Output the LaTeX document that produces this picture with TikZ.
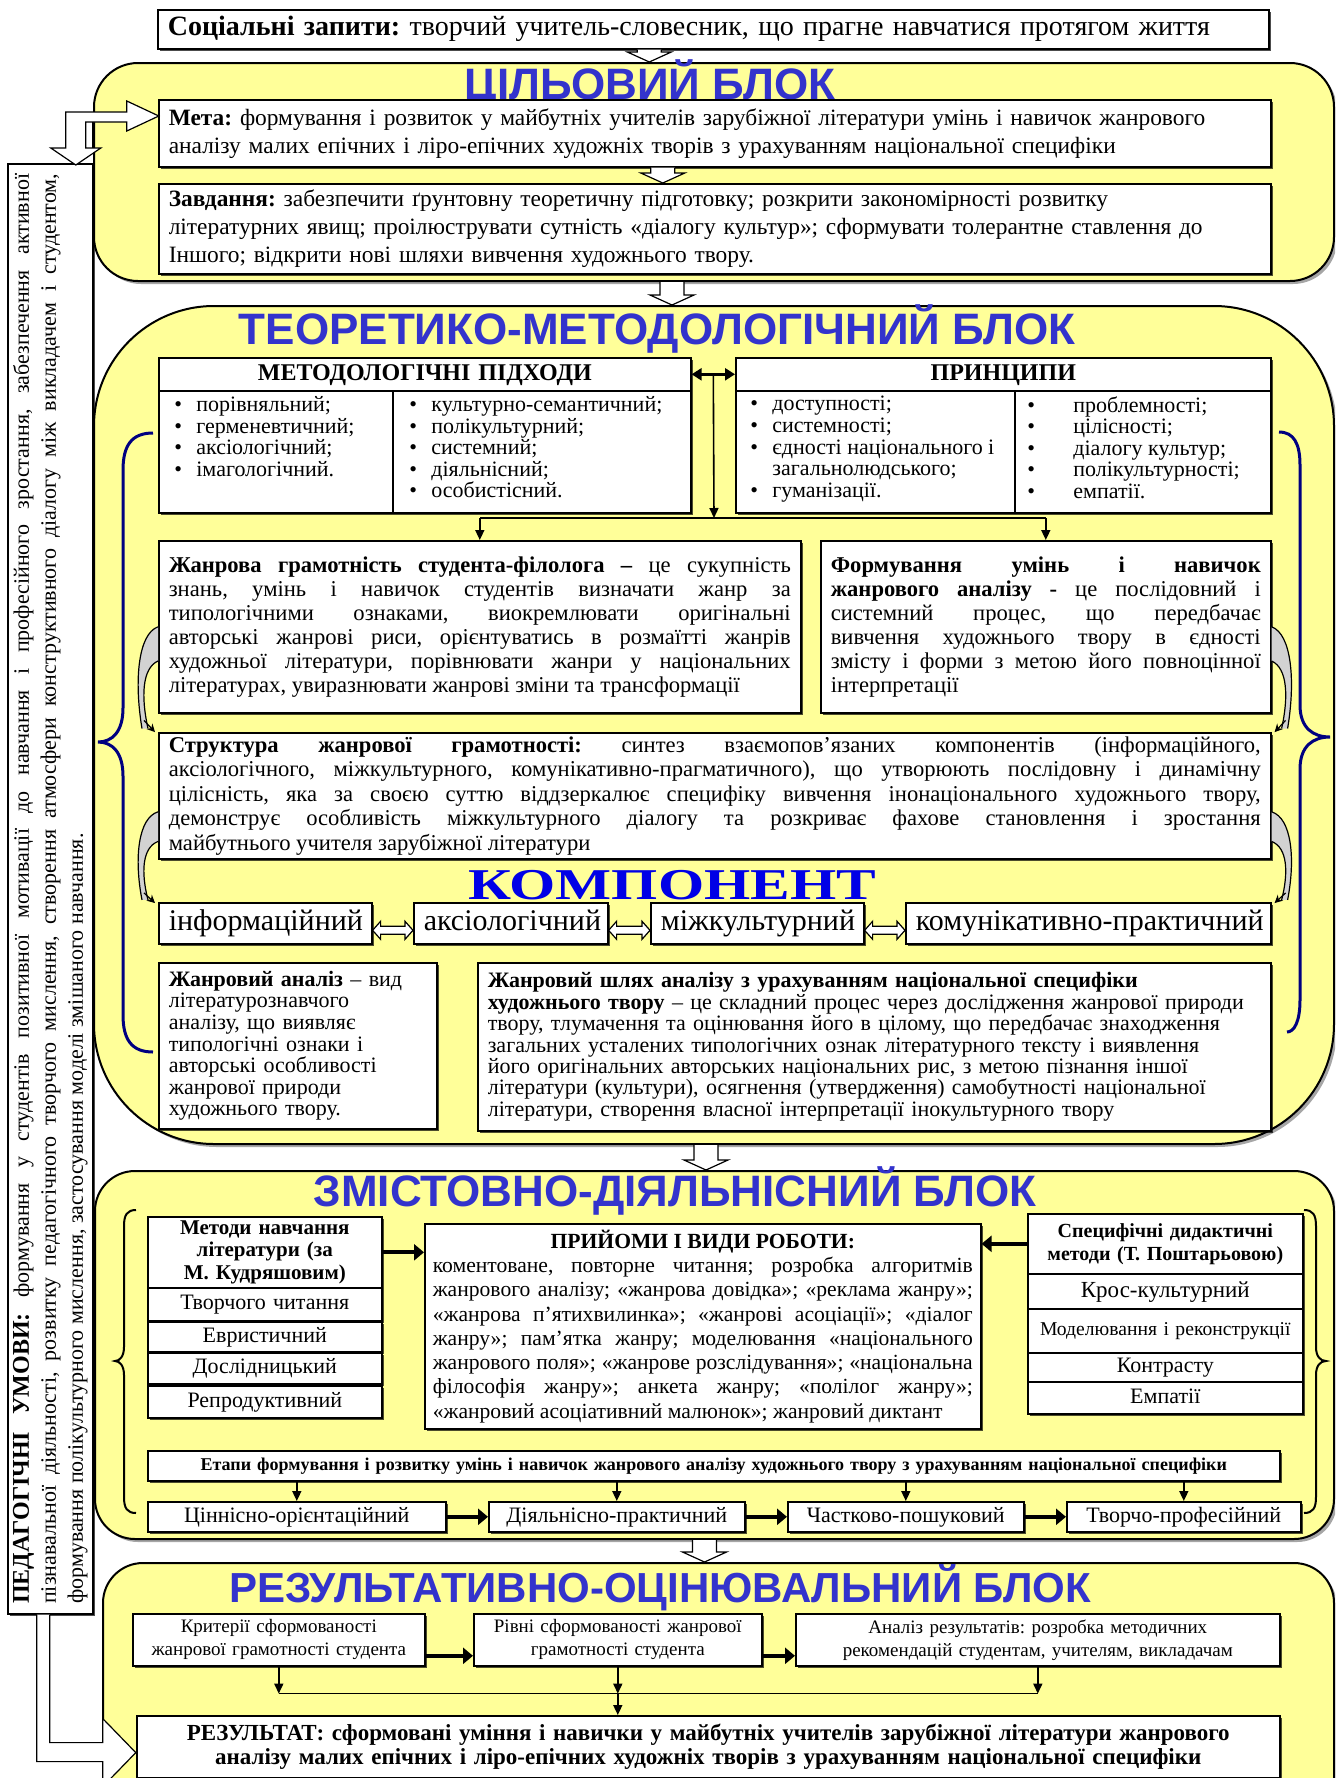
\documentclass[tikz,border=0pt]{standalone}
\usepackage{fontspec}
\setmainfont{Liberation Serif}
\newfontfamily\blkfont{Liberation Sans}
\usetikzlibrary{arrows.meta,calc,shadows}

\definecolor{blkyellow}{RGB}{255,255,153}
\definecolor{wordblue}{RGB}{51,51,204}
\definecolor{compblue}{RGB}{0,0,230}
\definecolor{bracenavy}{RGB}{0,0,128}

\newcommand{\fsz}[2]{\fontsize{#1}{#2}\selectfont}
\newcommand{\blt}{\makebox[11pt][l]{•}}
\newcommand{\bltw}{\makebox[23pt][l]{•}}

% hollow arrow down
\newcommand{\hdown}[2]{%
  \draw[harrow] let \p1=(#1), \p2=(#2) in
    (\x1-6pt,\y1) -- (\x1-6pt,\y2+5pt) -- (\x1-11pt,\y2+5pt) -- (\x1,\y2)
    -- (\x1+11pt,\y2+5pt) -- (\x1+6pt,\y2+5pt) -- (\x1+6pt,\y1);}

% hollow double arrow
\newcommand{\hboth}[2]{%
  \draw[harrow] let \p1=(#1), \p2=(#2) in
    (\x1,\y1) -- (\x1+4pt,\y1+4.5pt) -- (\x1+4pt,\y1+2pt) -- (\x2-4pt,\y1+2pt)
    -- (\x2-4pt,\y1+4.5pt) -- (\x2,\y1) -- (\x2-4pt,\y1-4.5pt) -- (\x2-4pt,\y1-2pt)
    -- (\x1+4pt,\y1-2pt) -- (\x1+4pt,\y1-4.5pt) -- cycle;}

\hyphenpenalty=10000
\exhyphenpenalty=10000
\tolerance=9999
\frenchspacing

\begin{document}
\begin{tikzpicture}[x=0.5pt, y=-0.5pt,
  sz/.style 2 args={minimum width=#1*0.5pt, minimum height=#2*0.5pt},
  wh/.style 2 args={sz={#1}{#2}, text width=#1*0.5pt-10pt},
  blk/.style={draw, line width=1pt, fill=blkyellow, rounded corners=#1, anchor=north west,
    drop shadow={shadow xshift=1.5pt, shadow yshift=-1.5pt, opacity=0.35, fill=black}},
  box/.style={draw, line width=0.8pt, fill=white, anchor=north west,
    inner xsep=5pt, inner ysep=1pt,
    drop shadow={shadow xshift=1pt, shadow yshift=-1pt, opacity=0.7, fill=black}},
  oneline/.style={align=center, text height=0.72*#1, text depth=0.22*#1, font=\fsz{#1}{#1}},
  lst/.style={anchor=north west, inner sep=0pt, align=left, font=\fsz{11}{10.8}},
  blktitle/.style={font=\blkfont\bfseries\fsz{22}{24}, text=wordblue},
  harrow/.style={fill=white, line width=0.6pt},
  arr/.style={line width=0.8pt, -{Triangle[length=5pt,width=4.5pt]}},
  tarr/.style={line width=2pt, -{Triangle[length=5pt,width=8pt]}},
  curlbr/.style={line width=1pt},
  bluebr/.style={line width=1.5pt, draw=bracenavy},
  bendarr/.pic={
    \fill[gray!35] (0,0) .. controls (-20,8) and (-24,60) .. (-16,113)
      -- (-10,113) .. controls (-17,78) and (-16,46) .. (0,38) -- cycle;
    \draw[line width=0.6pt] (0,0) .. controls (-20,8) and (-24,60) .. (-16,113);
    \draw[line width=0.6pt] (0,38) .. controls (-16,46) and (-17,78) .. (-10,113);
    \draw[line width=0.6pt, -{Stealth[length=4pt,width=4pt]}] (-14,104) -- (-3,117);
  }
]
\useasboundingbox (0,0) rectangle (1335,1778);
\clip (0,0) rectangle (1335,1778);

% Social requests
\node[box, wh={1111}{39}, align=left, font=\fsz{14}{16}] (soc) at (157,9)
{\textbf{Соціальні запити:} творчий учитель-словесник, що прагне навчатися протягом життя};

% Goal block
\node[blk=22pt, sz={1240}{218}] (goalblk) at (93,62) {};
\hdown{$(soc.south)+(-64,0)$}{goalblk.north};
\node[blktitle] (goaltitle) at (650,84) {ЦІЛЬОВИЙ БЛОК};

\node[box, wh={1112}{67}, align=left, font=\fsz{11.7}{14}] (meta) at (158,99)
{\textbf{Мета:} формування і розвиток у майбутніх учителів зарубіжної літератури умінь і навичок жанрового\\
аналізу малих епічних і ліро-епічних художніх творів з урахуванням національної специфіки};

\node[box, wh={1112}{90}, align=left, font=\fsz{11.7}{14}] (zavd) at (158,183)
{\textbf{Завдання:} забезпечити ґрунтовну теоретичну підготовку; розкрити закономірності розвитку\\
літературних явищ; проілюструвати сутність «діалогу культур»; сформувати толерантне ставлення до\\
Іншого; відкрити нові шляхи вивчення художнього твору.};
\hdown{$(meta.south)+(-52,0)$}{zavd.north};

% Theoretical and methodological block
\node[blk=60pt, sz={1240}{838}] (theoblk) at (93,305) {};
\hdown{$(goalblk.south)+(-42,0)$}{theoblk.north};
\node[blktitle] (theotitle) at (657,329) {ТЕОРЕТИКО-МЕТОДОЛОГІЧНИЙ БЛОК};

\draw[bluebr] (153,433) .. controls (132,433) and (123,445) .. (123,470) -- (123,708)
  .. controls (123,732) and (112,742) .. (98,742) .. controls (112,742) and (123,752) .. (123,776)
  -- (123,1015) .. controls (123,1040) and (132,1052) .. (153,1052);
\draw[bluebr] (1279,432) .. controls (1294,432) and (1300,444) .. (1300,465) -- (1300,705)
  .. controls (1300,728) and (1313,737) .. (1330,737) .. controls (1313,737) and (1300,746) .. (1300,769)
  -- (1300,1000) .. controls (1300,1022) and (1294,1032) .. (1287,1032);

\node[box, wh={532}{33}, oneline=12, font=\bfseries\fsz{12}{12}] (apphead) at (158,357) {МЕТОДОЛОГІЧНІ ПІДХОДИ};
\node[box, wh={535}{33}, oneline=12, font=\bfseries\fsz{12}{12}] (prinhead) at (735,357) {ПРИНЦИПИ};
\node[box, sz={234}{122}] (appA) at (158,390) {};
\node[box, sz={298}{122}] (appB) at (392,390) {};
\node[box, sz={279}{122}] (prinA) at (735,390) {};
\node[box, sz={256}{122}] (prinB) at (1014,390) {};

\node[lst] (appAtxt) at ([xshift=8pt,yshift=-3pt]appA.north west)
{\blt порівняльний;\\ \blt герменевтичний;\\ \blt аксіологічний;\\ \blt імагологічний.};
\node[lst] (appBtxt) at ([xshift=8.5pt,yshift=-3pt]appB.north west)
{\blt культурно-семантичний;\\ \blt полікультурний;\\ \blt системний;\\ \blt діяльнісний;\\ \blt особистісний.};
\node[lst] (prinAtxt) at ([xshift=7.5pt,yshift=-3pt]prinA.north west)
{\blt доступності;\\ \blt системності;\\ \blt єдності національного і\\ \hspace*{11pt}загальнолюдського;\\ \blt гуманізації.};
\node[lst] (prinBtxt) at ([xshift=6.5pt,yshift=-3pt]prinB.north west)
{\bltw проблемності;\\ \bltw цілісності;\\ \bltw діалогу культур;\\ \bltw полікультурності;\\ \bltw емпатії.};

\coordinate (hub) at ($(apphead.east)!0.5!(prinhead.west)$);
\coordinate (bar) at (714,518);
\draw[line width=1.2pt, {Triangle[length=5pt,width=6pt]}-{Triangle[length=5pt,width=6pt]}]
  (apphead.east) -- (prinhead.west);

\node[box, wh={642}{172}, align=justify, font=\fsz{11.3}{12}] (zhgram) at (158,540)
{\textbf{Жанрова грамотність студента-філолога –} це сукупність\linebreak
знань, умінь і навичок студентів визначати жанр за\linebreak
типологічними ознаками, виокремлювати оригінальні\linebreak
авторські жанрові риси, орієнтуватись в розмаїтті жанрів\linebreak
художньої літератури, порівнювати жанри у національних\linebreak
літературах, увиразнювати жанрові зміни та трансформації};

\node[box, wh={450}{172}, align=justify, font=\fsz{11.3}{12}] (formuv) at (820,540)
{\textbf{Формування умінь і навичок}\linebreak
\textbf{жанрового аналізу -} це послідовний і\linebreak
системний процес, що передбачає\linebreak
вивчення художнього твору в єдності\linebreak
змісту і форми з метою його повноцінної\linebreak
інтерпретації};

\draw[arr] (hub) -- (bar);
\draw[line width=0.8pt] (zhgram.north |- bar) -- (formuv.north |- bar);
\draw[arr] (zhgram.north |- bar) -- (zhgram.north);
\draw[arr] (formuv.north |- bar) -- (formuv.north);

\node[box, wh={1112}{126}, align=justify, font=\fsz{11.3}{12.2}] (struct) at (158,732)
{\textbf{Структура жанрової грамотності:} синтез взаємопов’язаних компонентів (інформаційного,\linebreak
аксіологічного, міжкультурного, комунікативно-прагматичного), що утворюють послідовну і динамічну\linebreak
цілісність, яка за своєю суттю віддзеркалює специфіку вивчення інонаціонального художнього твору,\linebreak
демонструє особливість міжкультурного діалогу та розкриває фахове становлення і зростання\linebreak
майбутнього учителя зарубіжної літератури};

\pic[yscale=0.9] at (zhgram.west) {bendarr};
\pic[xscale=-1, yscale=0.9] at (formuv.east) {bendarr};
\pic[yscale=0.78] at ([yshift=-8pt]struct.west) {bendarr};
\pic[xscale=-1, yscale=0.78] at ([yshift=-8pt]struct.east) {bendarr};

% Components
\node[font=\bfseries\fsz{22}{24}, text=compblue] (comptitle) at (672,885) {\scalebox{1.35}[1]{КОМПОНЕНТ}};
\node[box, wh={213}{41}, oneline=15] (comp1) at (158,902) {інформаційний};
\node[box, wh={194}{41}, oneline=15] (comp2) at (413,902) {аксіологічний};
\node[box, wh={213}{41}, oneline=15] (comp3) at (650,902) {міжкультурний};
\node[box, wh={365}{41}, oneline=15] (comp4) at (905,902) {комунікативно-практичний};
\hboth{[yshift=-3.5pt]comp1.east}{[yshift=-3.5pt]comp2.west};
\hboth{[yshift=-3.5pt]comp2.east}{[yshift=-3.5pt]comp3.west};
\hboth{[yshift=-3.5pt]comp3.east}{[yshift=-3.5pt]comp4.west};

\node[box, wh={278}{166}, align=left, font=\fsz{11}{10.8}] (zhanal) at (158,962)
{\textbf{Жанровий аналіз} – вид\\ літературознавчого\\ аналізу, що виявляє\\ типологічні ознаки і\\
авторські особливості\\ жанрової природи\\ художнього твору.};

\node[box, wh={793}{168}, align=left, font=\fsz{11}{10.7}] (zhshlyakh) at (477,962)
{\textbf{Жанровий шлях аналізу з урахуванням національної специфіки}\\
\textbf{художнього твору} – це складний процес через дослідження жанрової природи\\
твору, тлумачення та оцінювання його в цілому, що передбачає знаходження\\
загальних усталених типологічних ознак літературного тексту і виявлення\\
його оригінальних авторських національних рис, з метою пізнання іншої\\
літератури (культури), осягнення (утвердження) самобутності національної\\
літератури, створення власної інтерпретації інокультурного твору};

% Content and activity block
\node[blk=20pt, sz={1239}{368}] (contblk) at (94,1170) {};
\hdown{$(theoblk.south)+(-8,0)$}{contblk.north};
\node[blktitle] (conttitle) at (675,1191) {ЗМІСТОВНО-ДІЯЛЬНІСНИЙ БЛОК};

\draw[curlbr] (136,1210) .. controls (127,1210) and (124,1215) .. (124,1226) -- (124,1347)
  .. controls (124,1356) and (120,1361) .. (115,1361) .. controls (120,1361) and (124,1366) .. (124,1375)
  -- (124,1497) .. controls (124,1508) and (127,1513) .. (136,1513);
\draw[curlbr] (1304,1210) .. controls (1313,1210) and (1316,1215) .. (1316,1226) -- (1316,1347)
  .. controls (1316,1356) and (1320,1361) .. (1326,1361) .. controls (1320,1361) and (1316,1366) .. (1316,1375)
  -- (1316,1497) .. controls (1316,1508) and (1313,1513) .. (1304,1513);

\node[box, wh={234}{71}, align=center, font=\bfseries\fsz{10.5}{11.2}] (methhead) at (147,1216)
{Методи навчання\\ літератури (за\\ М.~Кудряшовим)};
\node[box, wh={234}{33}, oneline=11] (meth1) at (147,1287) {Творчого читання};
\node[box, wh={234}{30}, oneline=11] (meth2) at (147,1321) {Евристичний};
\node[box, wh={234}{31}, oneline=11] (meth3) at (147,1352) {Дослідницький};
\node[box, wh={234}{32}, oneline=11] (meth4) at (147,1385) {Репродуктивний};

\node[box, wh={556}{205}, inner xsep=4pt, text width=270pt, align=justify, font=\fsz{10.8}{12.15}] (pryiomy) at (424,1223)
{{\centering\textbf{ПРИЙОМИ І ВИДИ РОБОТИ:}\par}
коментоване, повторне читання; розробка алгоритмів\linebreak
жанрового аналізу; «жанрова довідка»; «реклама жанру»;\linebreak
«жанрова п’ятихвилинка»; «жанрові асоціації»; «діалог\linebreak
жанру»; пам’ятка жанру; моделювання «національного\linebreak
жанрового поля»; «жанрове розслідування»; «національна\linebreak
філософія жанру»; анкета жанру; «полілог жанру»;\linebreak
«жанровий асоціативний малюнок»; жанровий диктант};

\node[box, wh={275}{60}, align=center, font=\bfseries\fsz{10}{11.5}] (spechead) at (1027,1213)
{Специфічні дидактичні\\ методи (Т.~Поштарьовою)};
\node[box, wh={275}{35}, oneline=11.5] (spec1) at (1027,1273) {Крос-культурний};
\node[box, wh={275}{44}, align=center, font=\fsz{9.8}{11}] (spec2) at (1027,1308) {Моделювання і реконструкції\\[6pt]};
\node[box, wh={275}{29}, oneline=11] (spec3) at (1027,1352) {Контрасту};
\node[box, wh={275}{32}, oneline=11] (spec4) at (1027,1381) {Емпатії};

\draw[tarr] (methhead.east) -- (methhead.east -| pryiomy.west);
\draw[tarr] (spechead.west) -- (spechead.west -| pryiomy.east);

\node[box, wh={1132}{30}, align=center, font=\bfseries\fsz{9}{10}] (etapy) at (147,1450)
{Етапи формування і розвитку умінь і навичок жанрового аналізу художнього твору з урахуванням національної специфіки};
\node[box, wh={298}{30}, oneline=11] (st1) at (147,1501) {Ціннісно-орієнтаційний};
\node[box, wh={256}{30}, oneline=11] (st2) at (488,1501) {Діяльнісно-практичний};
\node[box, wh={236}{30}, oneline=11] (st3) at (787,1501) {Частково-пошуковий};
\node[box, wh={234}{30}, oneline=11] (st4) at (1066,1501) {Творчо-професійний};

\foreach \s in {st1,st2,st3,st4}
{
    \draw[arr] (\s.north |- etapy.south) -- (\s.north);
}
\draw[tarr] (st1.east) -- (st2.west);
\draw[tarr] (st2.east) -- (st3.west);
\draw[tarr] (st3.east) -- (st4.west);

% Result and evaluation block
\node[blk=20pt, sz={1231}{260}] (resblk) at (102,1562) {};
\hdown{$(contblk.south)+(-10,0)$}{resblk.north};
\node[blktitle, font=\blkfont\bfseries\fsz{21}{24}] (restitle) at (660,1588) {РЕЗУЛЬТАТИВНО-ОЦІНЮВАЛЬНИЙ БЛОК};

\node[box, wh={292}{52}, align=center, font=\fsz{9.5}{11.5}] (krit) at (132,1613)
{Критерії сформованості\\ жанрової грамотності студента};
\node[box, wh={288}{52}, align=center, font=\fsz{9.5}{11.5}] (rivni) at (473,1613)
{Рівні сформованості жанрової\\ грамотності студента};
\node[box, wh={484}{52}, align=center, font=\fsz{9.5}{11.5}] (analiz) at (795,1613)
{Аналіз результатів: розробка методичних\\ рекомендацій студентам, учителям, викладачам};
\draw[tarr] ([yshift=-8pt]krit.east) -- ([yshift=-8pt]rivni.west);
\draw[tarr] ([yshift=-8pt]rivni.east) -- ([yshift=-8pt]analiz.west);

\node[box, wh={1143}{62}, align=center, font=\bfseries\fsz{11.5}{12}] (result) at (136,1715)
{РЕЗУЛЬТАТ: сформовані уміння і навички у майбутніх учителів зарубіжної літератури жанрового\\
аналізу малих епічних і ліро-епічних художніх творів з урахуванням національної специфіки};

\coordinate (merge) at ($(rivni.south)+(0,27)$);
\draw[line width=0.8pt] (krit.south |- merge) -- (analiz.south |- merge);
\draw[arr] (krit.south) -- (krit.south |- merge);
\draw[arr] (rivni.south) -- (merge);
\draw[arr] (analiz.south) -- (analiz.south |- merge);
\draw[arr] (merge) -- (merge |- result.north);

% Pedagogical conditions
\node[box, sz={85}{1450}] (cond) at (7,163) {};
\node[rotate=90, align=justify, text width=715pt, inner sep=0pt, font=\fsz{11}{13.5}] (condtext) at (cond.center)
{\textbf{\fsz{12}{13.5}ПЕДАГОГІЧНІ УМОВИ:} формування у студентів позитивної мотивації до навчання і професійного зростання, забезпечення активної\linebreak
пізнавальної діяльності, розвитку педагогічного творчого мислення, створення атмосфери конструктивного діалогу між викладачем і студентом,\linebreak
формування полікультурного мислення, застосування моделі змішаного навчання.};

\begin{scope}[shift={(cond.north)}]
\draw[harrow] (15.5,-15) -- (15.5,-51) -- (76.5,-51) -- (76.5,-62) -- (108.5,-47) -- (76.5,-32)
  -- (76.5,-41) -- (35.5,-41) -- (35.5,-15) -- (50.5,-15) -- (25.5,2) -- (0.5,-15) -- cycle;
\draw[line width=0.6pt] (42.5,-41) -- (42.5,-15);
\end{scope}

\begin{scope}[shift={(cond.south)}]
\filldraw[harrow] (-13.5,0) -- (-13.5,147) -- (52.5,147) -- (52.5,172) -- (85.5,138)
  -- (52.5,104) -- (52.5,128) -- (-0.5,128) -- (-0.5,0);
\end{scope}

\end{tikzpicture}
\end{document}
